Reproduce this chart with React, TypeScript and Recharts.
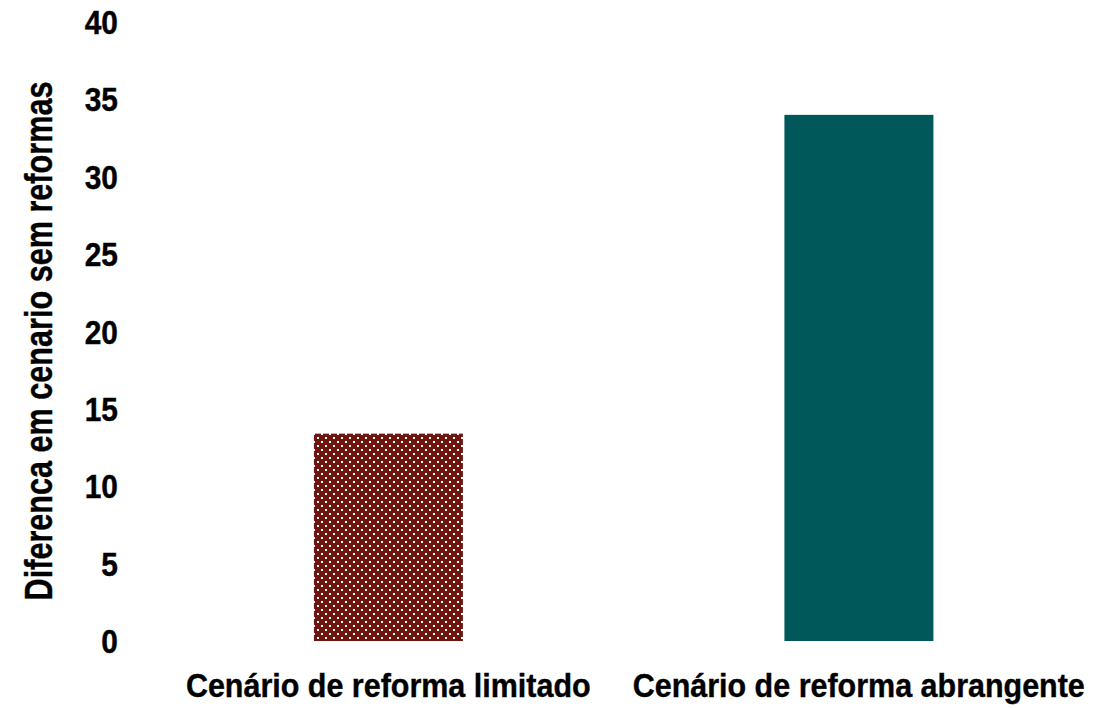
import React from 'react';
import { BarChart, Bar, XAxis, YAxis, Cell } from 'recharts';

const categories = ['Cenário de reforma limitado', 'Cenário de reforma abrangente'];
const values = [13.4, 34.0];
const yTicks = [0, 5, 10, 15, 20, 25, 30, 35, 40];
const yAxisTitle = 'Diferenca em cenario sem reformas';

const data = categories.map((name, i) => ({ name, value: values[i] }));

const FONT = '"Liberation Sans", Arial, sans-serif';

const BarShape = (props: any) => {
  const { x, y, width, height, index } = props;
  if (index === 0) {
    return (
      <g>
        <defs>
          <pattern id="dots" x="0" y="0" width="8" height="8" patternUnits="userSpaceOnUse">
            <rect x="0" y="0" width="8" height="8" fill="#6E1510" />
            <rect x="1" y="1" width="2" height="2" fill="#ffffff" />
            <rect x="5" y="5" width="2" height="2" fill="#ffffff" />
          </pattern>
        </defs>
        <rect x={x} y={y} width={width} height={height} fill="url(#dots)" />
      </g>
    );
  }
  return <rect x={x} y={y} width={width} height={height} fill="#01585B" />;
};

const XTick = (props: any) => {
  const { x, payload } = props;
  return (
    <text
      transform={`translate(${x},697) scale(0.91,1)`}
      textAnchor="middle"
      fill="#000"
      fontSize={33.5}
      fontWeight={700}
      fontFamily={FONT}
      stroke="#000"
      strokeWidth={0.4}
    >
      {payload.value}
    </text>
  );
};

const YTick = (props: any) => {
  const { y, payload } = props;
  return (
    <text
      transform={`translate(118,${y + 12}) scale(0.92,1)`}
      textAnchor="end"
      fill="#000"
      fontSize={32.5}
      fontWeight={700}
      fontFamily={FONT}
      stroke="#000"
      strokeWidth={0.4}
    >
      {payload.value}
    </text>
  );
};

const YTitle = () => {
  return (
    <text
      transform={`translate(52,341) rotate(-90) scale(0.785,1)`}
      textAnchor="middle"
      fill="#000"
      fontSize={39}
      fontWeight={700}
      fontFamily={FONT}
      stroke="#000"
      strokeWidth={0.4}
    >
      {yAxisTitle}
    </text>
  );
};

export default function App() {
  return (
    <div style={{ position: 'absolute', left: 0, top: 0, width: 1117, height: 708, background: '#fff' }}>
      <BarChart
        width={1117}
        height={708}
        data={data}
        margin={{ top: 22, right: 23, bottom: 0, left: 0 }}
        barCategoryGap="34.2%"
      >
        <XAxis
          dataKey="name"
          axisLine={false}
          tickLine={false}
          height={67}
          interval={0}
          tick={<XTick />}
        />
        <YAxis
          domain={[0, 40]}
          ticks={yTicks}
          axisLine={false}
          tickLine={false}
          width={153}
          interval={0}
          tick={<YTick />}
          label={<YTitle />}
        />
        <Bar dataKey="value" isAnimationActive={false} shape={BarShape}>
          {data.map((d, i) => (
            <Cell key={i} />
          ))}
        </Bar>
      </BarChart>
    </div>
  );
}
